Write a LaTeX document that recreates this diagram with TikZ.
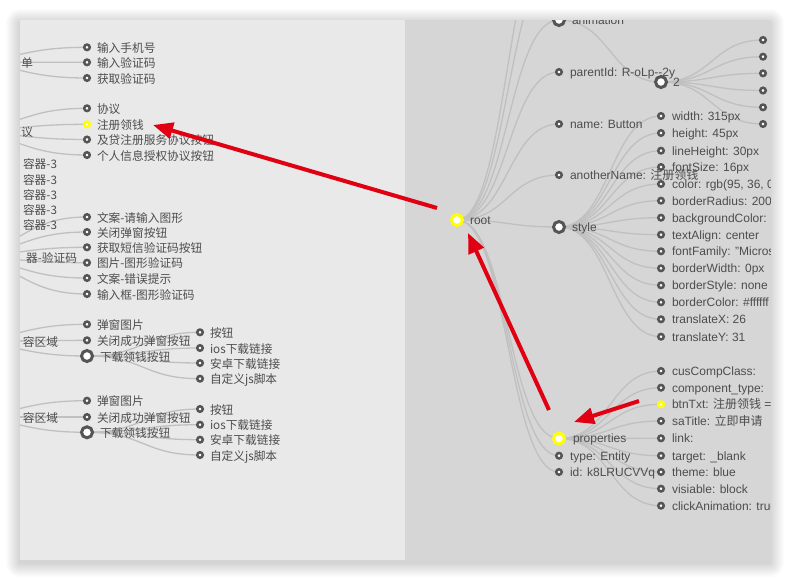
\documentclass[tikz,border=0pt]{standalone}
\usepackage{fontspec}
\setmainfont{Liberation Sans}
\newfontfamily\cjk{Noto Sans CJK SC}
\usetikzlibrary{calc,arrows.meta}
\definecolor{panelL}{HTML}{E9E9E9}
\definecolor{panelR}{HTML}{D6D6D6}
\definecolor{dotc}{HTML}{555555}
\definecolor{yel}{HTML}{FFFF00}
\definecolor{txt}{HTML}{4D4D4D}
\definecolor{lnkc}{HTML}{C0C0C0}
\definecolor{arr}{RGB}{224,0,18}
\pgfdeclarelayer{back}
\pgfdeclarelayer{links}
\pgfsetlayers{back,links,main}
\tikzset{
  dot/.style={circle,inner sep=0pt,minimum size=5.5pt,line width=2.5pt,draw=dotc,fill=white},
  ydot/.style={dot,draw=yel},
  big/.style={circle,inner sep=0pt,minimum size=11pt,line width=3pt,draw=dotc,fill=white},
  ybig/.style={big,draw=yel},
  lab/.style={anchor=base west,inner sep=0pt,outer sep=0pt,text=txt,font=\fontsize{12}{14}\selectfont},
  clab/.style={lab,font=\cjk\fontsize{11.7}{14}\selectfont},
  plab/.style={clab,anchor=base east},
  link/.style={draw=lnkc,line width=1.3pt},
  redarrow/.style={draw=arr,line width=4pt,-{Triangle[length=20pt,width=16pt]}},
}
\newcommand\mknode[6]{\node[#2] (#1) at (#3,#4) {};
  \node[lab] (#1-t) at ([xshift=#5pt,yshift=-4.4pt]#1.center) {#6};}
\newcommand\mkcjk[6]{\node[#2] (#1) at (#3,#4) {};
  \node[clab] (#1-t) at ([xshift=#5pt,yshift=-5.2pt]#1.center) {#6};}
\newcommand\mklink[2]{\draw[link] let \p1=(#1.center), \p2=(#2.center) in
  (\p1) .. controls ({(\x1+\x2)/2},\y1) and ({(\x1+\x2)/2},\y2) .. (\p2);}
\begin{document}
\begin{tikzpicture}[x=1pt,y=-1pt]
\useasboundingbox (0,0) rectangle (790,581);
\begin{pgfonlayer}{back}
  \fill[white] (0,0) rectangle (790,581);
  \foreach \i in {1,...,14}{
    \fill[black,opacity=0.012,rounded corners=\i pt] ({20-\i},{23-\i}) rectangle ({770+\i},{563+\i});
  }
  \fill[panelL] (20,20) rectangle (405,560);
  \fill[panelR] (405,20) rectangle (770,560);
\end{pgfonlayer}

% ---------------- left panel ----------------
\begin{scope}
\clip (20,20) rectangle (405,560);
\node[dot] (p1) at (-50,62) {};
\node[plab] (p1-t) at (33,67.3) {单};
\mkcjk{a1}{dot}{87}{47.3}{10}{输入手机号}
\mkcjk{a2}{dot}{87}{62.3}{10}{输入验证码}
\mkcjk{a3}{dot}{87}{78}{10}{获取验证码}

\node[dot] (p2) at (-50,131.5) {};
\node[plab] (p2-t) at (33,136.8) {议};
\mkcjk{b1}{dot}{87}{108.3}{10}{协议}
\mkcjk{b2}{ydot}{87}{124.3}{10}{注册领钱}
\mkcjk{b3}{dot}{87}{139.5}{10}{及贷注册服务协议按钮}
\mkcjk{b4}{dot}{87}{155}{10}{个人信息授权协议按钮}

\node[plab] (c1) at (57,168.3) {容器-3};
\node[plab] (c2) at (57,184.3) {容器-3};
\node[plab] (c3) at (57,199.3) {容器-3};
\node[plab] (c4) at (57,214.3) {容器-3};
\node[plab] (c5) at (57,229.3) {容器-3};

\node[dot] (p3) at (-50,257) {};
\node[plab] (p3-t) at (77,262.3) {器-验证码};
\mkcjk{d1}{dot}{87}{217}{10}{文案-请输入图形}
\mkcjk{d2}{dot}{87}{232}{10}{关闭弹窗按钮}
\mkcjk{d3}{dot}{87}{247.3}{10}{获取短信验证码按钮}
\mkcjk{d4}{dot}{87}{262.7}{10}{图片-图形验证码}
\mkcjk{d5}{dot}{87}{278}{10}{文案-错误提示}
\mkcjk{d6}{dot}{87}{294}{10}{输入框-图形验证码}

\node[dot] (p4) at (-50,341.5) {};
\node[plab] (p4-t) at (58,346.8) {容区域};
\mkcjk{e1}{dot}{87}{324.3}{10}{弹窗图片}
\mkcjk{e2}{dot}{87}{340.3}{10}{关闭成功弹窗按钮}
\mkcjk{e3}{big}{87}{356}{13}{下载领钱按钮}
\mkcjk{e4}{dot}{200}{332.3}{10}{按钮}
\mkcjk{e5}{dot}{200}{348}{10}{ios下载链接}
\mkcjk{e6}{dot}{200}{363}{10}{安卓下载链接}
\mkcjk{e7}{dot}{200}{378.7}{10}{自定义js脚本}

\node[dot] (p5) at (-50,417) {};
\node[plab] (p5-t) at (58,422.3) {容区域};
\mkcjk{f1}{dot}{87}{400.7}{10}{弹窗图片}
\mkcjk{f2}{dot}{87}{417}{10}{关闭成功弹窗按钮}
\mkcjk{f3}{big}{87}{432.3}{13}{下载领钱按钮}
\mkcjk{f4}{dot}{200}{409}{10}{按钮}
\mkcjk{f5}{dot}{200}{424.7}{10}{ios下载链接}
\mkcjk{f6}{dot}{200}{439.7}{10}{安卓下载链接}
\mkcjk{f7}{dot}{200}{455}{10}{自定义js脚本}
\end{scope}

\begin{pgfonlayer}{links}
\begin{scope}
\clip (20,20) rectangle (405,560);
\foreach \c in {a1,a2,a3} {\mklink{p1}{\c}}
\foreach \c in {b1,b2,b3,b4} {\mklink{p2}{\c}}
\foreach \c in {d1,d2,d3,d4,d5,d6} {\mklink{p3}{\c}}
\foreach \c in {e1,e2,e3} {\mklink{p4}{\c}}
\foreach \c in {e4,e5,e6,e7} {\mklink{e3}{\c}}
\foreach \c in {f1,f2,f3} {\mklink{p5}{\c}}
\foreach \c in {f4,f5,f6,f7} {\mklink{f3}{\c}}
\end{scope}
\end{pgfonlayer}

% ---------------- right panel ----------------
\begin{scope}
\clip (405,20) rectangle (770,560);
\mknode{root}{ybig}{457}{220}{13}{root}
\node[dot] (r0) at (559,-90) {};
\node[dot] (r00) at (559,-40) {};
\mknode{anim}{big}{559}{20}{13}{animation}
\mknode{pid}{dot}{559}{72}{11}{parentId: R-oLp-{}-2y}
\mknode{nm}{dot}{559}{124}{11}{name: Button}
\mknode{an}{dot}{559}{175}{11}{anotherName: {\cjk 注册领钱}}
\mknode{sty}{big}{559}{227}{13}{style}
\mknode{prop}{ybig}{559}{438.5}{14}{properties}
\mknode{typ}{dot}{559}{455.7}{11}{type: Entity}
\mknode{idn}{dot}{559}{472}{11}{id: k8LRUCVVq}

\mknode{two}{big}{661}{82}{12}{2}
\node[dot] (t1) at (763,40) {};
\node[dot] (t2) at (763,56.7) {};
\node[dot] (t3) at (763,73.3) {};
\node[dot] (t4) at (763,90.5) {};
\node[dot] (t5) at (763,107.3) {};
\node[dot] (t6) at (763,124) {};

\mknode{s1}{dot}{661}{116}{11}{width: 315px}
\mknode{s2}{dot}{661}{133}{11}{height: 45px}
\mknode{s3}{dot}{661}{150.7}{11}{lineHeight: 30px}
\mknode{s4}{dot}{661}{167}{11}{fontSize: 16px}
\mknode{s5}{dot}{661}{184}{11}{color: rgb(95, 36, 0)}
\mknode{s6}{dot}{661}{200.7}{11}{borderRadius: 200px}
\mknode{s7}{dot}{661}{217.7}{11}{backgroundColor: \#fff}
\mknode{s8}{dot}{661}{234.7}{11}{textAlign: center}
\mknode{s9}{dot}{661}{251.3}{11}{fontFamily: "Microsoft YaHei"}
\mknode{s10}{dot}{661}{268.3}{11}{borderWidth: 0px}
\mknode{s11}{dot}{661}{285.3}{11}{borderStyle: none}
\mknode{s12}{dot}{661}{302.3}{11}{borderColor: \#ffffff}
\mknode{s13}{dot}{661}{319.3}{11}{translateX: 26}
\mknode{s14}{dot}{661}{336.7}{11}{translateY: 31}

\mknode{q1}{dot}{661}{371}{11}{cusCompClass:}
\mknode{q2}{dot}{661}{387.7}{11}{component\_type:}
\mknode{q3}{ydot}{661}{404.3}{11}{btnTxt: {\cjk 注册领钱} =}
\mknode{q4}{dot}{661}{421}{11}{saTitle: {\cjk 立即申请}}
\mknode{q5}{dot}{661}{438.3}{11}{link:}
\mknode{q6}{dot}{661}{455.7}{11}{target: \_blank}
\mknode{q7}{dot}{661}{472}{11}{theme: blue}
\mknode{q8}{dot}{661}{488.7}{11}{visiable: block}
\mknode{q9}{dot}{661}{505.7}{11}{clickAnimation: true}
\end{scope}

\begin{pgfonlayer}{links}
\begin{scope}
\clip (405,20) rectangle (770,560);
\foreach \c in {r0,r00,anim,pid,nm,an,sty,prop,typ,idn} {\mklink{root}{\c}}
\mklink{anim}{two}
\foreach \c in {t1,t2,t3,t4,t5,t6} {\mklink{two}{\c}}
\foreach \c in {s1,s2,s3,s4,s5,s6,s7,s8,s9,s10,s11,s12,s13,s14} {\mklink{sty}{\c}}
\foreach \c in {q1,q2,q3,q4,q5,q6,q7,q8,q9} {\mklink{prop}{\c}}
\end{scope}
\end{pgfonlayer}

% ---------------- red arrows ----------------
\coordinate (a1s) at (437,208);
\coordinate (a1e) at (153,125);
\coordinate (a2s) at (549,410);
\coordinate (a2e) at (468,233);
\coordinate (a3s) at (639,401);
\coordinate (a3e) at (574,422);
\draw[redarrow] (a1s) -- (a1e);
\draw[redarrow] (a2s) -- (a2e);
\draw[redarrow] (a3s) -- (a3e);
\end{tikzpicture}
\end{document}
